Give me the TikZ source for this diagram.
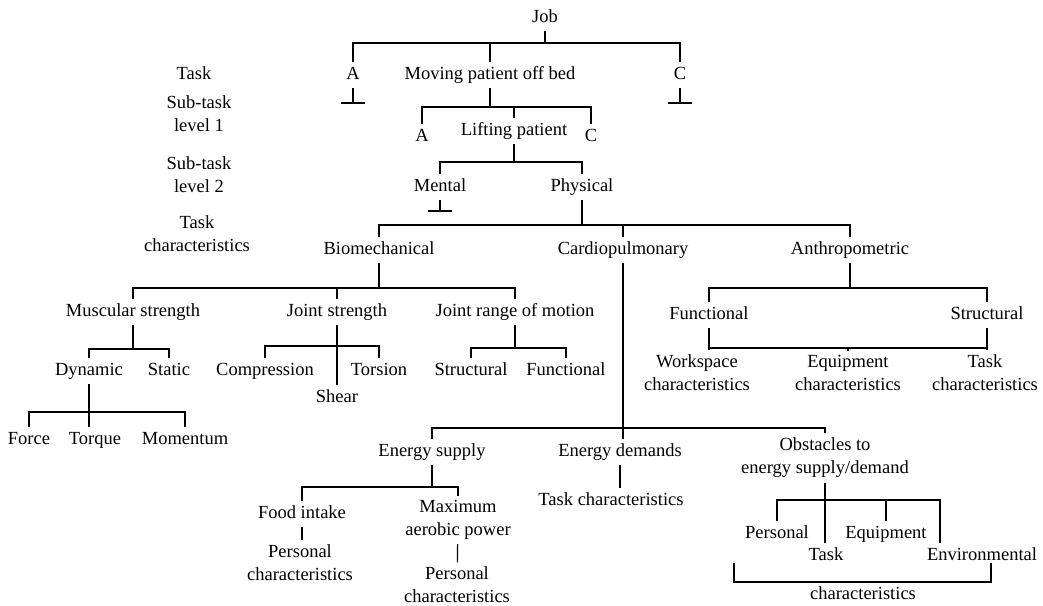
\documentclass[tikz,border=0pt]{standalone}
\usepackage{fontspec}
\setmainfont{Liberation Serif}
\usepackage{tikz}
\usetikzlibrary{positioning}

\begin{document}
\begin{tikzpicture}[x=1pt, y=-1pt, line width=1.2pt,
    lbl/.style={font=\fontsize{18.5}{23}\selectfont, inner xsep=2pt, inner ysep=4pt, text height=13pt, text depth=4pt},
    lbl2/.style={font=\fontsize{18.5}{23}\selectfont, inner xsep=2pt, inner ysep=4pt, align=center}]
    \useasboundingbox (0,0) rectangle (1043,605);

    \node[lbl] (rTask) at (194,75) {Task};
    \node[lbl2] (rSub1) at (199,114) {Sub-task\\level 1};
    \node[lbl2] (rSub2) at (199,175) {Sub-task\\level 2};
    \node[lbl2] (rChar) at (197,234) {Task\\characteristics};

    \node[lbl] (job) at (545,18) {Job};
    \node[lbl] (tA) at (353,75) {A};
    \node[lbl] (moving) at (490,75) {Moving patient off bed};
    \node[lbl] (tC) at (680,75) {C};
    \coordinate (b0) at (0,43);
    \draw (job) -- (job |- b0);
    \draw (tA) -- (tA |- b0) -| (tC);
    \draw (moving) -- (moving |- b0);
    \draw (tA) -- (tA |- 0,103) +(-12,0) -- +(12,0);
    \draw (tC) -- (tC |- 0,103) +(-12,0) -- +(12,0);

    \node[lbl] (sA) at (422,137) {A};
    \node[lbl] (lift) at (514,131) {Lifting patient};
    \node[lbl] (sC) at (591,137) {C};
    \coordinate (b1) at (0,107);
    \draw (moving) -- (moving |- b1);
    \draw (sA) -- (sA |- b1) -| (sC);
    \draw (lift) -- (lift |- b1);

    \node[lbl] (mental) at (440,187) {Mental};
    \node[lbl] (phys) at (582,187) {Physical};
    \coordinate (b2) at (0,162);
    \draw (lift) -- (lift |- b2);
    \draw (mental) -- (mental |- b2) -| (phys);
    \draw (mental) -- (mental |- 0,211) +(-12,0) -- +(12,0);

    \node[lbl] (bio) at (379,250) {Biomechanical};
    \node[lbl] (cardio) at (623,250) {Cardiopulmonary};
    \node[lbl] (anthro) at (850,250) {Anthropometric};
    \coordinate (b3) at (0,225);
    \draw (phys) -- (phys |- b3);
    \draw (bio) -- (bio |- b3) -| (anthro);
    \draw (cardio) -- (cardio |- b3);

    \node[lbl] (musc) at (133,312) {Muscular strength};
    \node[lbl] (joint) at (337,312) {Joint strength};
    \node[lbl] (jrom) at (515,312) {Joint range of motion};
    \coordinate (b4) at (0,288);
    \draw (bio) -- (bio |- b4);
    \draw (musc) -- (musc |- b4) -| (jrom);
    \draw (joint) -- (joint |- b4);

    \node[lbl] (dyn) at (89,371) {Dynamic};
    \node[lbl] (stat) at (169,371) {Static};
    \coordinate (b5) at (0,349);
    \draw (musc) -- (musc |- b5);
    \draw (dyn) -- (dyn |- b5) -| (stat);

    \node[lbl] (comp) at (265,371) {Compression};
    \node[lbl] (tors) at (379,371) {Torsion};
    \node[lbl] (shear) at (337,398) {Shear};
    \coordinate (b6) at (0,346);
    \draw (joint) -- (shear);
    \draw (comp) -- (comp |- b6) -| (tors);

    \node[lbl] (struc1) at (471,371) {Structural};
    \node[lbl] (func1) at (566,371) {Functional};
    \coordinate (b7) at (0,348);
    \draw (jrom) -- (jrom |- b7);
    \draw (struc1) -- (struc1 |- b7) -| (func1);

    \node[lbl] (force) at (29,440) {Force};
    \node[lbl] (torque) at (95,440) {Torque};
    \node[lbl] (mom) at (185,440) {Momentum};
    \coordinate (b8) at (0,412);
    \draw (dyn) -- (dyn |- torque.north);
    \draw (force) -- (force |- b8) -| (mom);

    \node[lbl] (func2) at (709,315) {Functional};
    \node[lbl] (struc2) at (987,315) {Structural};
    \coordinate (b9) at (0,288);
    \draw (anthro) -- (anthro |- b9);
    \draw (func2) -- (func2 |- b9) -| (struc2);

    \node[lbl2] (work) at (697,373) {Workspace\\characteristics};
    \node[lbl2] (equip) at (848,373) {Equipment\\characteristics};
    \node[lbl2] (tchar) at (985,373) {Task\\characteristics};
    \coordinate (b10) at (0,348);
    \draw (func2) -- (func2 |- work.north);
    \draw (struc2) -- (struc2 |- tchar.north);
    \draw (func2 |- b10) -- (struc2 |- b10);
    \draw (equip) -- (equip |- b10);

    \node[lbl] (esup) at (432,452) {Energy supply};
    \node[lbl] (edem) at (620,452) {Energy demands};
    \node[lbl2] (obst) at (825,458) {Obstacles to\\energy supply/demand};
    \coordinate (b11) at (0,428);
    \draw (cardio) -- (cardio |- edem.north);
    \draw (esup) -- (esup |- b11) -| (obst);

    \node[lbl] (food) at (302,514) {Food intake};
    \node[lbl2] (maxp) at (458,520) {Maximum\\aerobic power};
    \coordinate (b12) at (0,487);
    \draw (esup) -- (esup |- b12);
    \draw (food) -- (food |- b12) -| (maxp);
    \node[lbl2] (pers1) at (300,563) {Personal\\characteristics};
    \node[lbl2] (pers2) at (457,585) {Personal\\characteristics};
    \draw (food) -- (food |- pers1.north);
    \draw (maxp) -- (pers2);

    \node[lbl] (etask) at (611,501) {Task characteristics};
    \draw (edem) -- (edem |- etask.north);

    \node[lbl] (opers) at (777,534) {Personal};
    \node[lbl] (otask) at (826,556) {Task};
    \node[lbl] (oequip) at (886,534) {Equipment};
    \node[lbl] (oenv) at (982,556) {Environmental};
    \coordinate (b13) at (0,500);
    \draw (obst) -- (obst |- otask.north);
    \draw (opers) -- (opers |- b13) -| ([xshift=-42pt]oenv.north);
    \draw (oequip) -- (oequip |- b13);

    \node[lbl] (ochar) at (863,595) {characteristics};
    \coordinate (brL) at (734,563);
    \coordinate (brR) at (991,563);
    \draw (brL) |- (ochar.north -| brR) -- (brR);
\end{tikzpicture}
\end{document}
